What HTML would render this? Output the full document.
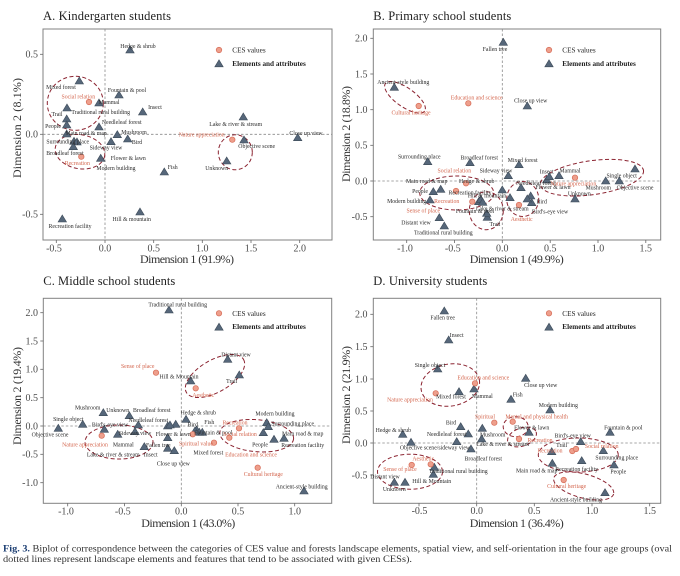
<!DOCTYPE html>
<html><head><meta charset="utf-8"><style>
html,body{margin:0;padding:0;background:#fff;}
svg{display:block;font-family:"Liberation Serif",serif;}
.el{font-size:5.8px;fill:#2b2b2b;text-anchor:middle;}
.ces{font-size:5.8px;fill:#d4674f;text-anchor:middle;}
.tk{font-size:10px;fill:#4a4a4a;}
.tx{text-anchor:middle;}
.ty{text-anchor:end;}
.ttl{font-size:12.5px;fill:#222;}
.ax{font-size:12px;fill:#333;text-anchor:middle;}
.lg1{font-size:7.2px;fill:#222;}
.lg2{font-size:7.2px;fill:#222;font-weight:bold;}
.fr{fill:none;stroke:#808080;stroke-width:1;}
.z{stroke:#8a8a8a;stroke-width:0.8;stroke-dasharray:2.5,2;}
.tm{stroke:#666;stroke-width:0.8;}
.ov{fill:none;stroke:#8b2330;stroke-width:1;stroke-dasharray:4,2.5;}
.cap{font-size:9px;fill:#333;}
</style></head><body>
<svg width="680" height="576" viewBox="0 0 680 576" xmlns="http://www.w3.org/2000/svg">
<defs>
<polygon id="t" points="0,-4 4.2,3 -4.2,3" fill="#56677a" stroke="#3e4b59" stroke-width="0.6"/>
<circle id="c" r="2.7" fill="#ee9f8c" stroke="#d9735f" stroke-width="0.8"/>
</defs>

<!-- ================= PANEL A ================= -->
<text class="ttl" x="43" y="20" textLength="128">A. Kindergarten students</text>
<rect class="fr" x="43" y="29" width="289" height="211"/>
<line class="z" x1="105" y1="29" x2="105" y2="240"/>
<line class="z" x1="43" y1="134.3" x2="332" y2="134.3"/>
<g class="tm">
<line x1="56.3" y1="240" x2="56.3" y2="243"/><line x1="105" y1="240" x2="105" y2="243"/><line x1="153.7" y1="240" x2="153.7" y2="243"/><line x1="202.3" y1="240" x2="202.3" y2="243"/><line x1="251" y1="240" x2="251" y2="243"/><line x1="299.7" y1="240" x2="299.7" y2="243"/>
<line x1="40" y1="54.3" x2="43" y2="54.3"/><line x1="40" y1="134.3" x2="43" y2="134.3"/><line x1="40" y1="214.3" x2="43" y2="214.3"/>
</g>
<g class="tk tx"><text x="54" y="251.5">-0.5</text><text x="105" y="251.5">0.0</text><text x="153.7" y="251.5">0.5</text><text x="202.3" y="251.5">1.0</text><text x="251" y="251.5">1.5</text><text x="299.7" y="251.5">2.0</text></g>
<g class="tk ty"><text x="38" y="57.6">0.5</text><text x="38" y="137.6">0.0</text><text x="38" y="217.6">-0.5</text></g>
<text class="ax" x="187" y="263" textLength="94">Dimension 1 (91.9%)</text>
<text class="ax" transform="translate(21,128) rotate(-90)" textLength="100">Dimension 2 (8.1%)</text>
<g class="ov">
<ellipse cx="75.3" cy="103.3" rx="28" ry="27"/>
<ellipse cx="80" cy="151.7" rx="25" ry="17" transform="rotate(10 80 151.7)"/>
<ellipse cx="235.3" cy="152.3" rx="17" ry="17.5"/>
</g>
<g>
<use href="#t" x="130" y="50"/><use href="#t" x="79.3" y="81"/><use href="#t" x="119" y="95"/><use href="#t" x="99" y="103"/><use href="#t" x="142.7" y="112"/><use href="#t" x="67" y="108"/><use href="#t" x="66.7" y="119"/><use href="#t" x="66.7" y="125"/><use href="#t" x="99" y="127"/><use href="#t" x="243.3" y="117"/><use href="#t" x="297.7" y="137.7"/><use href="#t" x="244" y="140"/><use href="#t" x="226.7" y="161"/><use href="#t" x="164.3" y="172"/><use href="#t" x="140" y="212"/><use href="#t" x="62.3" y="219"/><use href="#t" x="66.7" y="134"/><use href="#t" x="117.3" y="134.7"/><use href="#t" x="127.7" y="139"/><use href="#t" x="111" y="141.7"/><use href="#t" x="74" y="141.3"/><use href="#t" x="77" y="142"/><use href="#t" x="73.3" y="146.7"/><use href="#t" x="100.7" y="158.3"/>
</g>
<g>
<use href="#c" x="89" y="102"/><use href="#c" x="81.3" y="156.7"/><use href="#c" x="232.3" y="139.7"/>
</g>
<g class="el">
<text x="138" y="48">Hedge &amp; shrub</text><text x="61" y="89">Mixed forest</text><text x="127" y="92">Fountain &amp; pool</text><text x="109" y="104">Mammal</text><text x="155" y="109">Insect</text><text x="100.7" y="114">Traditional rural building</text><text x="57" y="116">Trail</text><text x="53" y="128">People</text><text x="121.7" y="124">Needleleaf forest</text><text x="235.7" y="126">Lake &amp; river &amp; stream</text><text x="306" y="135">Close up view</text><text x="256.7" y="148">Objective scene</text><text x="216.7" y="170">Unknown</text><text x="172.7" y="169">Fish</text><text x="131.7" y="221">Hill &amp; mountain</text><text x="70" y="228">Recreation facility</text><text x="86" y="135">Main road &amp; map</text><text x="134" y="134">Mushroom</text><text x="137" y="144">Bird</text><text x="106" y="149.7">Sideway view</text><text x="67.7" y="143.3">Surrounding place</text><text x="65" y="155">Broadleaf forest</text><text x="128.3" y="160">Flower &amp; lawn</text><text x="116" y="170">Modern building</text>
</g>
<g class="ces">
<text x="78.3" y="98.7">Social relation</text><text x="77.3" y="165">Recreation</text><text x="201.7" y="136.3">Nature appreciation</text>
</g>
<use href="#c" x="219" y="50"/><text class="lg1" x="232.3" y="52.6">CES values</text>
<use href="#t" x="219" y="63.8"/><text class="lg2" x="232.3" y="65.8">Elements and attributes</text>

<!-- ================= PANEL B ================= -->
<text class="ttl" x="373.3" y="20" textLength="138">B. Primary school students</text>
<rect class="fr" x="373.3" y="29" width="287.4" height="211"/>
<line class="z" x1="502.3" y1="29" x2="502.3" y2="240"/>
<line class="z" x1="373.3" y1="181" x2="660.7" y2="181"/>
<g class="tm">
<line x1="406.7" y1="240" x2="406.7" y2="243"/><line x1="454.5" y1="240" x2="454.5" y2="243"/><line x1="502.3" y1="240" x2="502.3" y2="243"/><line x1="550.2" y1="240" x2="550.2" y2="243"/><line x1="598" y1="240" x2="598" y2="243"/><line x1="645.8" y1="240" x2="645.8" y2="243"/>
<line x1="370.3" y1="38.3" x2="373.3" y2="38.3"/><line x1="370.3" y1="74" x2="373.3" y2="74"/><line x1="370.3" y1="109.7" x2="373.3" y2="109.7"/><line x1="370.3" y1="145.3" x2="373.3" y2="145.3"/><line x1="370.3" y1="181" x2="373.3" y2="181"/><line x1="370.3" y1="216.7" x2="373.3" y2="216.7"/>
</g>
<g class="tk tx"><text x="405" y="251.5">-1.0</text><text x="452.8" y="251.5">-0.5</text><text x="502.3" y="251.5">0.0</text><text x="550.2" y="251.5">0.5</text><text x="598" y="251.5">1.0</text><text x="645.8" y="251.5">1.5</text></g>
<g class="tk ty"><text x="367.5" y="41.6">2.0</text><text x="367.5" y="77.3">1.5</text><text x="367.5" y="113">1.0</text><text x="367.5" y="148.6">0.5</text><text x="367.5" y="184.3">0.0</text><text x="367.5" y="220">-0.5</text></g>
<text class="ax" x="516.7" y="263" textLength="94">Dimension 1 (49.9%)</text>
<text class="ax" transform="translate(350,134) rotate(-90)" textLength="96">Dimension 2 (18.8%)</text>
<g class="ov">
<ellipse cx="405" cy="97.3" rx="24" ry="9.5" transform="rotate(35 405 97.3)"/>
<ellipse cx="456.7" cy="193" rx="37" ry="17"/>
<ellipse cx="486.3" cy="210.7" rx="17" ry="19"/>
<ellipse cx="522.7" cy="199" rx="16" ry="17.5"/>
<ellipse cx="592" cy="177.7" rx="52" ry="17" transform="rotate(-8 592 177.7)"/>
</g>
<g>
<use href="#t" x="503.3" y="42.3"/><use href="#t" x="394.3" y="87.3"/><use href="#t" x="527.3" y="106"/><use href="#t" x="427.7" y="161.7"/><use href="#t" x="470" y="162.7"/><use href="#t" x="519" y="164.7"/><use href="#t" x="508.3" y="175.7"/><use href="#t" x="546.7" y="180"/><use href="#t" x="549.3" y="176.7"/><use href="#t" x="559" y="175.7"/><use href="#t" x="635" y="169"/><use href="#t" x="619.3" y="181"/><use href="#t" x="605.7" y="181"/><use href="#t" x="575" y="199"/><use href="#t" x="531.7" y="202.7"/><use href="#t" x="530.7" y="196"/><use href="#t" x="502.3" y="190"/><use href="#t" x="510" y="197.7"/><use href="#t" x="521" y="187.7"/><use href="#t" x="527.3" y="199"/><use href="#t" x="487.3" y="217.3"/><use href="#t" x="486.7" y="213.3"/><use href="#t" x="478.7" y="201.7"/><use href="#t" x="433.3" y="191.7"/><use href="#t" x="440.7" y="189.3"/><use href="#t" x="430" y="200"/><use href="#t" x="439.3" y="217.7"/><use href="#t" x="444.3" y="226"/><use href="#t" x="480.7" y="199.3"/><use href="#t" x="482.7" y="202.3"/>
</g>
<g>
<use href="#c" x="468.3" y="103.3"/><use href="#c" x="418.7" y="106"/><use href="#c" x="466" y="183.3"/><use href="#c" x="456" y="191"/><use href="#c" x="472.3" y="201.7"/><use href="#c" x="519" y="205"/><use href="#c" x="575" y="177.7"/>
</g>
<g class="el">
<text x="495" y="51">Fallen tree</text><text x="403.3" y="84">Ancient-style building</text><text x="530.7" y="102.7">Close up view</text><text x="419.3" y="158.7">Surrounding place</text><text x="479.3" y="159.3">Broadleaf forest</text><text x="522.7" y="162">Mixed forest</text><text x="496" y="172.7">Sideway view</text><text x="546.7" y="173.7">Insect</text><text x="570" y="172.7">Mammal</text><text x="621.7" y="177.7">Single object</text><text x="635" y="189.7">Objective scene</text><text x="598.3" y="189.3">Mushroom</text><text x="579.3" y="195.3">Unknown</text><text x="541.7" y="203.7">Bird</text><text x="550" y="213.7">Bird's-eye view</text><text x="502.3" y="210.3">Lake &amp; river &amp; stream</text><text x="495" y="226">Trail</text><text x="475" y="213">Fountain &amp; pool</text><text x="420" y="193">People</text><text x="406.7" y="203">Modern building</text><text x="416" y="224.3">Distant view</text><text x="443.3" y="234.3">Traditional rural building</text><text x="426.7" y="183">Main road &amp; map</text><text x="476.7" y="183">Hedge &amp; shrub</text><text x="470" y="194.7">Recreation facility</text><text x="487" y="197.7">Hill &amp; mountain</text><text x="536" y="185">Needleleaf forest</text><text x="553" y="189">Flower &amp; lawn</text>
</g>
<g class="ces">
<text x="476.7" y="99.7">Education and science</text><text x="411" y="114.7">Cultural heritage</text><text x="454.3" y="172.3">Social relation</text><text x="446.7" y="203">Recreation</text><text x="423.3" y="212.7">Sense of place</text><text x="521.7" y="221">Aesthetic</text><text x="573.3" y="185.3">Nature appreciation</text>
</g>
<use href="#c" x="549" y="50"/><text class="lg1" x="562.3" y="52.6">CES values</text>
<use href="#t" x="549" y="63.8"/><text class="lg2" x="562.3" y="65.8">Elements and attributes</text>

<!-- ================= PANEL C ================= -->
<text class="ttl" x="43.3" y="285" textLength="132">C. Middle school students</text>
<rect class="fr" x="43.3" y="298.3" width="288.4" height="205"/>
<line class="z" x1="181.3" y1="298.3" x2="181.3" y2="503.3"/>
<line class="z" x1="43.3" y1="426" x2="331.7" y2="426"/>
<g class="tm">
<line x1="67.7" y1="503.3" x2="67.7" y2="506.3"/><line x1="124.5" y1="503.3" x2="124.5" y2="506.3"/><line x1="181.3" y1="503.3" x2="181.3" y2="506.3"/><line x1="238" y1="503.3" x2="238" y2="506.3"/><line x1="294.7" y1="503.3" x2="294.7" y2="506.3"/>
<line x1="40.3" y1="312.7" x2="43.3" y2="312.7"/><line x1="40.3" y1="341" x2="43.3" y2="341"/><line x1="40.3" y1="369.3" x2="43.3" y2="369.3"/><line x1="40.3" y1="397.7" x2="43.3" y2="397.7"/><line x1="40.3" y1="426" x2="43.3" y2="426"/><line x1="40.3" y1="454.3" x2="43.3" y2="454.3"/><line x1="40.3" y1="482.7" x2="43.3" y2="482.7"/>
</g>
<g class="tk tx"><text x="66" y="514.5">-1.0</text><text x="122.8" y="514.5">-0.5</text><text x="181.3" y="514.5">0.0</text><text x="238" y="514.5">0.5</text><text x="294.7" y="514.5">1.0</text></g>
<g class="tk ty"><text x="38" y="316">2.0</text><text x="38" y="344.3">1.5</text><text x="38" y="372.6">1.0</text><text x="38" y="401">0.5</text><text x="38" y="429.3">0.0</text><text x="38" y="457.6">-0.5</text><text x="38" y="486">-1.0</text></g>
<text class="ax" x="188.3" y="527" textLength="94">Dimension 1 (43.0%)</text>
<text class="ax" transform="translate(21,396) rotate(-90)" textLength="98">Dimension 2 (19.4%)</text>
<g class="ov">
<ellipse cx="215" cy="376" rx="33" ry="16" transform="rotate(-30 215 376)"/>
<ellipse cx="119" cy="442" rx="34" ry="17"/>
<ellipse cx="256.7" cy="435.7" rx="37" ry="16" transform="rotate(5 256.7 435.7)"/>
</g>
<g>
<use href="#t" x="169" y="310"/><use href="#t" x="227.7" y="359.3"/><use href="#t" x="239.3" y="375"/><use href="#t" x="190.7" y="381"/><use href="#t" x="103.3" y="412.7"/><use href="#t" x="129.3" y="415.7"/><use href="#t" x="82.7" y="424.3"/><use href="#t" x="58.3" y="428.3"/><use href="#t" x="186" y="419.3"/><use href="#t" x="138.3" y="425"/><use href="#t" x="266.7" y="422.7"/><use href="#t" x="268.3" y="426.7"/><use href="#t" x="284" y="438.3"/><use href="#t" x="274" y="439.3"/><use href="#t" x="263.3" y="432.7"/><use href="#t" x="196.7" y="430"/><use href="#t" x="199.3" y="432.3"/><use href="#t" x="202.3" y="432.3"/><use href="#t" x="167.7" y="426"/><use href="#t" x="175.7" y="424.3"/><use href="#t" x="170" y="425"/><use href="#t" x="167.7" y="437.7"/><use href="#t" x="144.3" y="446.7"/><use href="#t" x="167.7" y="448.3"/><use href="#t" x="174.3" y="450.7"/><use href="#t" x="117.7" y="434.3"/><use href="#t" x="135" y="431.7"/><use href="#t" x="104.3" y="429.3"/><use href="#t" x="195" y="431"/><use href="#t" x="304" y="491"/>
</g>
<g>
<use href="#c" x="156" y="372.7"/><use href="#c" x="195.7" y="388.3"/><use href="#c" x="101.7" y="435.7"/><use href="#c" x="192.7" y="434.3"/><use href="#c" x="214" y="442.7"/><use href="#c" x="229.3" y="437.7"/><use href="#c" x="239" y="428.3"/><use href="#c" x="257.7" y="467.7"/>
</g>
<g class="el">
<text x="177.7" y="306.3">Traditional rural building</text><text x="236" y="356.3">Distant view</text><text x="231.7" y="383">Trail</text><text x="179" y="378.7">Hill &amp; Mountain</text><text x="87.7" y="409.3">Mushroom</text><text x="117.7" y="412">Unknown</text><text x="151.7" y="412">Broadleaf forest</text><text x="68.3" y="421">Single object</text><text x="50" y="436.3">Objective scene</text><text x="198.3" y="414.3">Hedge &amp; shrub</text><text x="148.3" y="422">Needleleaf forest</text><text x="275" y="415.3">Modern building</text><text x="292.7" y="425.3">Surrounding place</text><text x="302.7" y="435.3">Main road &amp; map</text><text x="302.7" y="447">Recreation facility</text><text x="260" y="446.3">People</text><text x="209.3" y="424">Fish</text><text x="213.3" y="434.7">Fountain &amp; pool</text><text x="192.7" y="426.3">Bird</text><text x="173.3" y="436">Flower &amp; lawn</text><text x="158.3" y="447">Fallen tree</text><text x="150.7" y="456.3">Insect</text><text x="173.3" y="465.3">Close up view</text><text x="123.3" y="446.3">Mammal</text><text x="135" y="435">Sideway view</text><text x="110" y="426.3">Bird's-eye view</text><text x="113.3" y="456.3">Lake &amp; river &amp; stream</text><text x="208.3" y="454.7">Mixed forest</text><text x="301.7" y="488.7">Ancient-style building</text>
</g>
<g class="ces">
<text x="137.7" y="368">Sense of place</text><text x="203.3" y="397">Aesthetic</text><text x="85" y="446.3">Nature appreciation</text><text x="196" y="445.3">Spiritual value</text><text x="251" y="456.3">Education and science</text><text x="240" y="436">Social relation</text><text x="235" y="424.3">Recreation</text><text x="263.3" y="476">Cultural heritage</text>
</g>
<use href="#c" x="219" y="313.3"/><text class="lg1" x="232.3" y="315.9">CES values</text>
<use href="#t" x="219" y="327.2"/><text class="lg2" x="232.3" y="329.2">Elements and attributes</text>

<!-- ================= PANEL D ================= -->
<text class="ttl" x="373.3" y="285" textLength="114">D. University students</text>
<rect class="fr" x="373.3" y="298.3" width="287.4" height="205"/>
<line class="z" x1="476.7" y1="298.3" x2="476.7" y2="503.3"/>
<line class="z" x1="373.3" y1="443" x2="660.7" y2="443"/>
<g class="tm">
<line x1="419" y1="503.3" x2="419" y2="506.3"/><line x1="476.7" y1="503.3" x2="476.7" y2="506.3"/><line x1="534.3" y1="503.3" x2="534.3" y2="506.3"/><line x1="592" y1="503.3" x2="592" y2="506.3"/><line x1="649.7" y1="503.3" x2="649.7" y2="506.3"/>
<line x1="370.3" y1="314.3" x2="373.3" y2="314.3"/><line x1="370.3" y1="346.7" x2="373.3" y2="346.7"/><line x1="370.3" y1="379" x2="373.3" y2="379"/><line x1="370.3" y1="411" x2="373.3" y2="411"/><line x1="370.3" y1="443" x2="373.3" y2="443"/><line x1="370.3" y1="475" x2="373.3" y2="475"/>
</g>
<g class="tk tx"><text x="419.5" y="514">-0.5</text><text x="476.7" y="514">0.0</text><text x="534.3" y="514">0.5</text><text x="592" y="514">1.0</text><text x="649.7" y="514">1.5</text></g>
<g class="tk ty"><text x="367.5" y="317.6">2.0</text><text x="367.5" y="350">1.5</text><text x="367.5" y="382.3">1.0</text><text x="367.5" y="414.3">0.5</text><text x="367.5" y="446.3">0.0</text><text x="367.5" y="478.3">-0.5</text></g>
<text class="ax" x="516.7" y="527" textLength="94">Dimension 1 (36.4%)</text>
<text class="ax" transform="translate(350,395) rotate(-90)" textLength="98">Dimension 2 (21.9%)</text>
<g class="ov">
<ellipse cx="450.3" cy="385" rx="29.5" ry="21" transform="rotate(-10 450.3 385)"/>
<ellipse cx="515.7" cy="426.7" rx="12.5" ry="10"/>
<ellipse cx="522" cy="437" rx="15" ry="9" transform="rotate(-20 522 437)"/>
<ellipse cx="410" cy="471.7" rx="32.5" ry="17.5"/>
<ellipse cx="578.3" cy="455" rx="40" ry="17"/>
<ellipse cx="583.7" cy="486" rx="31" ry="12" transform="rotate(15 583.7 486)"/>
</g>
<g>
<use href="#t" x="444.3" y="311"/><use href="#t" x="448.7" y="340"/><use href="#t" x="437.7" y="369"/><use href="#t" x="525.7" y="378.3"/><use href="#t" x="459" y="391.7"/><use href="#t" x="474" y="389"/><use href="#t" x="511" y="399.3"/><use href="#t" x="550" y="410"/><use href="#t" x="460.7" y="426.7"/><use href="#t" x="468.3" y="434"/><use href="#t" x="402.7" y="434.3"/><use href="#t" x="411" y="442.3"/><use href="#t" x="456.7" y="441.7"/><use href="#t" x="482.3" y="428.3"/><use href="#t" x="481.7" y="439"/><use href="#t" x="471" y="449"/><use href="#t" x="529" y="432.3"/><use href="#t" x="610" y="432.3"/><use href="#t" x="580.7" y="441.7"/><use href="#t" x="551.7" y="451.7"/><use href="#t" x="603.3" y="450.7"/><use href="#t" x="614" y="465"/><use href="#t" x="581.7" y="460.7"/><use href="#t" x="552.3" y="463.3"/><use href="#t" x="605" y="492.7"/><use href="#t" x="434.3" y="467.3"/><use href="#t" x="433.3" y="474.3"/><use href="#t" x="394.3" y="482.3"/><use href="#t" x="405" y="482.3"/>
</g>
<g>
<use href="#c" x="475" y="383.3"/><use href="#c" x="435.7" y="393.3"/><use href="#c" x="494.3" y="422.7"/><use href="#c" x="512.7" y="421.7"/><use href="#c" x="519" y="439"/><use href="#c" x="430.7" y="464.3"/><use href="#c" x="411.7" y="465"/><use href="#c" x="572.3" y="451"/><use href="#c" x="576" y="449"/><use href="#c" x="563.7" y="480"/>
</g>
<g class="el">
<text x="442.7" y="319.7">Fallen tree</text><text x="456.7" y="337">Insect</text><text x="430" y="367">Single object</text><text x="540.7" y="387">Close up view</text><text x="451" y="398.7">Mixed forest</text><text x="482.3" y="398">Mammal</text><text x="517.7" y="396.3">Fish</text><text x="558.3" y="407">Modern building</text><text x="451" y="424.3">Bird</text><text x="446.7" y="436">Needleleaf forest</text><text x="393.3" y="432">Hedge &amp; shrub</text><text x="435" y="449.7">Objective scene/sideway view</text><text x="483.3" y="460.7">Broadleaf forest</text><text x="492.7" y="436.3">Mushroom</text><text x="502.7" y="446">Lake &amp; river &amp; stream</text><text x="531.7" y="429.7">Flower &amp; lawn</text><text x="623.3" y="429.7">Fountain &amp; pool</text><text x="572.7" y="437.7">Bird's-eye view</text><text x="561.7" y="447">Trail</text><text x="616.7" y="459.7">Surrounding place</text><text x="618.3" y="473.7">People</text><text x="576.7" y="471">Recreation facility</text><text x="536.7" y="472.7">Main road &amp; map</text><text x="576" y="501.3">Ancient-style building</text><text x="458.3" y="473">Traditional rural building</text><text x="431.7" y="483">Hill &amp; Mountain</text><text x="385" y="478.7">Distant view</text><text x="394.3" y="491">Unknown</text>
</g>
<g class="ces">
<text x="483.3" y="379.7">Education and science</text><text x="410" y="401.3">Nature appreciation</text><text x="485" y="418.7">Spiritual</text><text x="536.7" y="418.7">Mental and physical health</text><text x="540" y="442">Recreation</text><text x="423.3" y="460.3">Aesthetic</text><text x="400" y="471">Sense of place</text><text x="601.7" y="448">Social relation</text><text x="550" y="452.3">Recreation</text><text x="566.7" y="488">Cultural heritage</text>
</g>
<use href="#c" x="549" y="313.3"/><text class="lg1" x="562.3" y="315.9">CES values</text>
<use href="#t" x="549" y="327.2"/><text class="lg2" x="562.3" y="329.2">Elements and attributes</text>

<!-- ================= CAPTION ================= -->
<text class="cap" x="3" y="551.5" textLength="669" lengthAdjust="spacingAndGlyphs"><tspan font-weight="bold" fill="#1d3f73">Fig. 3.</tspan> Biplot of correspondence between the categories of CES value and forests landscape elements, spatial view, and self-orientation in the four age groups (oval</text>
<text class="cap" x="3" y="562" textLength="409" lengthAdjust="spacingAndGlyphs">dotted lines represent landscape elements and features that tend to be associated with given CESs).</text>
</svg>
</body></html>
